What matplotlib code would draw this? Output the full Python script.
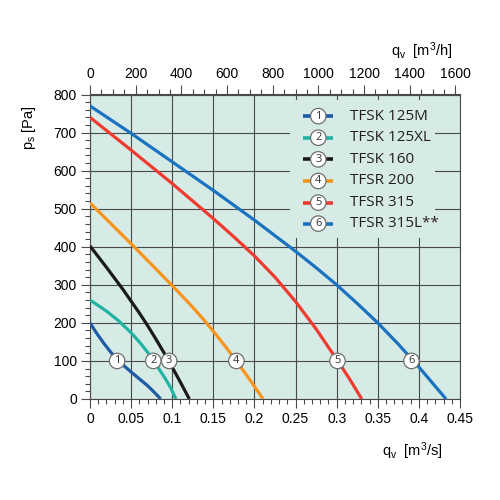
import matplotlib
matplotlib.use("Agg")
import matplotlib.pyplot as plt
from matplotlib.ticker import MultipleLocator
from matplotlib.patches import Rectangle

# ---- data (q in m3/s, p in Pa) ----
names = ["TFSK 125M", "TFSK 125XL", "TFSK 160", "TFSR 200", "TFSR 315", "TFSR 315L**"]
colors = ["#1d5ba5", "#22b3a3", "#1a1a1a", "#f7941d", "#ee3b30", "#1a72c0"]

q1 = [0, 0.008, 0.018, 0.026, 0.033, 0.042, 0.05, 0.06, 0.07, 0.078, 0.086]
p1 = [200, 173, 143, 121, 104, 86, 71, 53, 35, 18, 0]
q2 = [0, 0.02, 0.035, 0.05, 0.06, 0.07, 0.077, 0.092, 0.098, 0.1045]
p2 = [260, 231, 205, 174, 150, 123, 102, 52, 30, 0]
q3 = [0, 0.02, 0.04, 0.06, 0.07, 0.08, 0.0953, 0.11, 0.1208]
p3 = [402, 346, 288, 226, 193, 158, 102, 44, 0]
q4 = [0, 0.05, 0.1, 0.125, 0.14, 0.15, 0.165, 0.1776, 0.19, 0.2, 0.2105]
p4 = [515, 408, 298, 241, 204, 178, 137, 101, 64, 33, 0]
q5 = [0, 0.05, 0.1, 0.15, 0.175, 0.2, 0.225, 0.25, 0.275, 0.3, 0.315, 0.3305]
p5 = [740, 654, 566, 474, 426, 376, 320, 256, 184, 104, 55, 0]
q6 = [0, 0.05, 0.1, 0.15, 0.2, 0.25, 0.275, 0.3, 0.325, 0.35, 0.375, 0.4, 0.433]
p6 = [770, 698, 623, 548, 470, 388, 345, 300, 251, 200, 144, 84, 0]

qs = [q1, q2, q3, q4, q5, q6]
ps = [p1, p2, p3, p4, p5, p6]
label_q = [0.033, 0.077, 0.0963, 0.178, 0.301, 0.391]
label_p = 100

x_ticks = [0, 0.05, 0.1, 0.15, 0.2, 0.25, 0.3, 0.35, 0.4, 0.45]
x_ticklabels = ["0", "0.05", "0.1", "0.15", "0.2", "0.25", "0.3", "0.35", "0.4", "0.45"]
y_ticks = [0, 100, 200, 300, 400, 500, 600, 700, 800]
top_ticks = [0, 200, 400, 600, 800, 1000, 1200, 1400, 1600]

bg = "#d6ebe6"
gridc = "#4a4a4a"

plt.rcParams["font.family"] = ["Liberation Sans", "DejaVu Sans"]
plt.rcParams["mathtext.fontset"] = "custom"
plt.rcParams["mathtext.rm"] = "Liberation Sans"
plt.rcParams["mathtext.it"] = "Liberation Sans"

fig = plt.figure(figsize=(5, 5), dpi=100)
ax = fig.add_axes([0.18, 0.202, 0.74, 0.609])
ax.set_facecolor(bg)
ax.set_xlim(0, 0.45)
ax.set_ylim(0, 800)

ax.set_xticks(x_ticks)
ax.set_xticklabels(x_ticklabels)
ax.set_yticks(y_ticks)
ax.xaxis.set_minor_locator(MultipleLocator(0.01))
ax.yaxis.set_minor_locator(MultipleLocator(20))
ax.tick_params(which="major", length=6.5, width=0.8, color=gridc, labelsize=10, pad=3)
ax.tick_params(which="minor", length=3.8, width=0.8, color=gridc)
ax.tick_params(axis="y", which="both", right=False)
ax.grid(True, which="major", color=gridc, linewidth=0.8)
ax.set_axisbelow(True)
for s in ax.spines.values():
    s.set_color(gridc)
    s.set_linewidth(0.8)

sec = ax.secondary_xaxis("top", functions=(lambda x: x * 3600, lambda x: x / 3600))
sec.set_xticks(top_ticks)
sec.xaxis.set_minor_locator(MultipleLocator(50))
sec.tick_params(which="major", length=6.5, width=0.8, color=gridc, labelsize=10, pad=3)
sec.tick_params(which="minor", length=3.8, width=0.8, color=gridc)
sec.spines["top"].set_color(gridc)

# curves
for q, p, c in zip(qs, ps, colors):
    ax.plot(q, p, color=c, linewidth=2.3, solid_capstyle="butt",
            solid_joinstyle="round", zorder=3)

circ = dict(boxstyle="circle,pad=0.2", fc="white", ec="#6e6e6e", lw=0.9)
for i, lq in enumerate(label_q):
    ax.text(lq, label_p, str(i + 1), ha="center", va="center", fontsize=8,
            color="#333333", bbox=circ, zorder=5, family="Open Sans")

# legend (manual)
ax.add_patch(Rectangle((0.54, 0.529), 0.392, 0.453, transform=ax.transAxes,
                       facecolor=bg, edgecolor="none", zorder=1.5))
row_y = [0.929, 0.858, 0.787, 0.716, 0.645, 0.576]
for i, (n, c) in enumerate(zip(names, colors)):
    y = row_y[i]
    ax.plot([0.575, 0.658], [y, y], color=c, linewidth=2.6, transform=ax.transAxes,
            zorder=3, solid_capstyle="butt")
    ax.text(0.617, y, str(i + 1), transform=ax.transAxes, ha="center", va="center",
            fontsize=8, color="#333333", bbox=circ, zorder=5, family="Open Sans")
    ax.text(0.703, y, n, transform=ax.transAxes, ha="left", va="center",
            fontsize=11, color="#231f20", family="Open Sans", zorder=5)

# axis labels
fig.text(0.058, 0.745, r"p$_\mathregular{s}$ [Pa]", rotation=90, ha="center", va="center", fontsize=10.5)
fig.text(0.905, 0.897, r"q$_\mathregular{v}$  [m$^\mathregular{3}$/h]", ha="right", va="center", fontsize=10.5)
fig.text(0.885, 0.098, r"q$_\mathregular{v}$  [m$^\mathregular{3}$/s]", ha="right", va="center", fontsize=10.5)

fig.savefig("out.png", dpi=100, facecolor="white")
